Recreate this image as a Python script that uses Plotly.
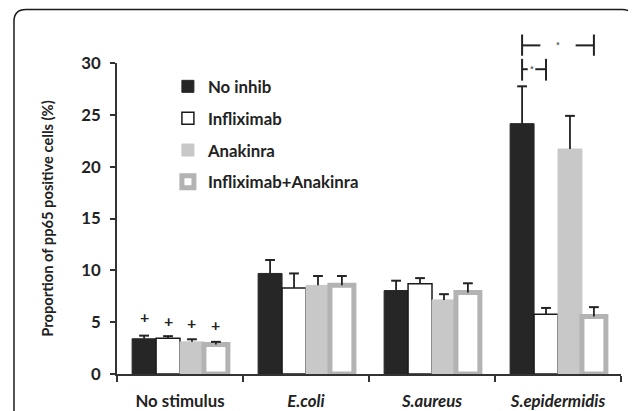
import plotly.graph_objects as go

categories = ["No stimulus", "E.coli", "S.aureus", "S.epidermidis"]
tick_text = ["No stimulus", "<i>E.coli</i>", "<i>S.aureus</i>", "<i>S.epidermidis</i>"]

series_names = ["No inhib", "Infliximab", "Anakinra", "Infliximab+Anakinra"]
no_inhib = [3.4, 9.7, 8.05, 24.15]
infliximab = [3.45, 8.3, 8.7, 5.77]
anakinra = [3.1, 8.55, 7.15, 21.7]
inflix_anak = [2.85, 8.55, 7.85, 5.55]

err_no_inhib = [0.3, 1.3, 0.95, 3.6]
err_infliximab = [0.2, 1.4, 0.55, 0.6]
err_anakinra = [0.25, 0.9, 0.55, 3.2]
err_inflix_anak = [0.25, 0.9, 0.9, 0.9]

plus_y = [5.5, 5.2, 5.0, 4.8]  # "+" marks above No stimulus bars

y_ticks = [0, 5, 10, 15, 20, 25, 30]

values = [no_inhib, infliximab, anakinra, inflix_anak]
errors = [err_no_inhib, err_infliximab, err_anakinra, err_inflix_anak]
fills = ["#262626", "#ffffff", "#c8c8c8", "#ffffff"]
lines = ["#262626", "#1a1a1a", "#c8c8c8", "#b3b3b3"]
line_w = [1, 1.5, 1, 5]

BARGAP = 0.24
FS = 16.8
FONT = dict(family="Lato", size=FS, color="#222222", weight="bold")
ERR_COL = "#222222"

x_pos = list(range(len(categories)))
w = (1 - BARGAP) / 4
offsets = [(-1.5 + k) * w for k in range(4)]

fig = go.Figure()
for i in range(4):
    fig.add_trace(go.Bar(
        name=series_names[i], x=x_pos, y=values[i],
        marker=dict(color=fills[i], line=dict(color=lines[i], width=line_w[i])),
        error_y=dict(type="data", array=errors[i], arrayminus=[0] * 4,
                     symmetric=False, color=ERR_COL, thickness=1.8, width=0),
        legendgroup=str(i),
    ))
# error-bar caps (upper only)
for i in range(4):
    fig.add_trace(go.Scatter(
        x=[p + offsets[i] for p in x_pos],
        y=[v + e for v, e in zip(values[i], errors[i])],
        mode="markers", showlegend=False, hoverinfo="skip",
        marker=dict(symbol="line-ew", size=7, line=dict(color=ERR_COL, width=2)),
    ))

annotations = []
for k in range(4):
    annotations.append(dict(x=x_pos[0] + offsets[k], y=plus_y[k], xref="x", yref="y",
                            text="+", showarrow=False,
                            font=dict(family="Lato", size=16, color="#222222", weight="bold")))

# significance brackets on S.epidermidis
ci = x_pos[3]
def py(v):
    return v / 30.0

shapes = []
br_col = "#222222"
def bracket(xa, xb, ylo, yhi, ymid, xs, gap):
    s = []
    for xx in (xa, xb):
        s.append(dict(type="line", xref="x", yref="paper", x0=xx, x1=xx,
                      y0=py(ylo), y1=py(yhi), line=dict(color=br_col, width=2)))
    s.append(dict(type="line", xref="x", yref="paper", x0=xa, x1=xs - gap,
                  y0=py(ymid), y1=py(ymid), line=dict(color=br_col, width=2)))
    s.append(dict(type="line", xref="x", yref="paper", x0=xs + gap, x1=xb,
                  y0=py(ymid), y1=py(ymid), line=dict(color=br_col, width=2)))
    return s

xa = ci + offsets[0]
xb_outer = ci + offsets[3]
xb_inner = ci + offsets[1]
shapes += bracket(xa, xb_outer, 30.7, 32.75, 31.7, (xa + xb_outer) / 2, 0.14)
shapes += bracket(xa, xb_inner, 28.3, 30.4, 29.4, (xa + xb_inner) / 2 - 0.02, 0.03)
annotations.append(dict(x=(xa + xb_outer) / 2, y=py(31.7), xref="x", yref="paper",
                        text="*", showarrow=False, yanchor="middle",
                        font=dict(family="Lato", size=9, color="#444444")))
annotations.append(dict(x=(xa + xb_inner) / 2 - 0.02, y=py(29.4), xref="x", yref="paper",
                        text="*", showarrow=False, yanchor="middle",
                        font=dict(family="Lato", size=9, color="#444444")))

# outer rounded frame
rx, ry = 12 / 504, 12 / 311
L, T, R, B = -0.2044, 1.172, 1.026, -0.3
shapes.append(dict(type="path", xref="paper", yref="paper",
                   path=(f"M{L},{B} L{L},{T - ry} Q{L},{T} {L + rx},{T} "
                         f"L{R - rx},{T} Q{R},{T} {R},{T - ry} L{R},{B}"),
                   line=dict(color="#1a1a1a", width=1.5), layer="above"))

boundaries = [p - 0.5 for p in x_pos] + [x_pos[-1] + 0.5]

# the page body has an 8px margin, so the figure is sized/offset to compensate
fig.update_layout(
    width=628, height=403,
    margin=dict(l=109, r=15, t=55, b=37, autoexpand=False),
    paper_bgcolor="white", plot_bgcolor="white",
    barmode="group", bargap=BARGAP, bargroupgap=0,
    font=FONT,
    showlegend=True,
    legend=dict(x=0.101, y=0.981, xanchor="left", yanchor="top",
                bgcolor="rgba(0,0,0,0)", font=FONT, itemwidth=30,
                traceorder="grouped", tracegroupgap=7),
    annotations=annotations,
    shapes=shapes,
    xaxis=dict(type="linear", range=[boundaries[0], boundaries[-1]], automargin=False,
               tickmode="array", tickvals=x_pos, ticktext=tick_text, ticks="",
               minor=dict(tickmode="array", tickvals=boundaries, ticks="outside",
                          ticklen=6, tickwidth=2, tickcolor="#333333", showgrid=False),
               showline=True, linecolor="#333333", linewidth=2,
               showgrid=False, zeroline=False, ticklabelstandoff=11,
               tickfont=FONT),
    yaxis=dict(range=[0, 30], tickvals=y_ticks, ticks="outside", ticklen=5,
               automargin=False,
               tickwidth=2, tickcolor="#333333",
               showline=True, linecolor="#333333", linewidth=2,
               showgrid=False, zeroline=False, ticklabelstandoff=6,
               tickfont=FONT,
               title=dict(text="Proportion of pp65 positive cells (%)",
                          font=dict(family="Lato", size=14.7, color="#222222", weight="bold"),
                          standoff=24)),
)

fig.write_html("out.html")
